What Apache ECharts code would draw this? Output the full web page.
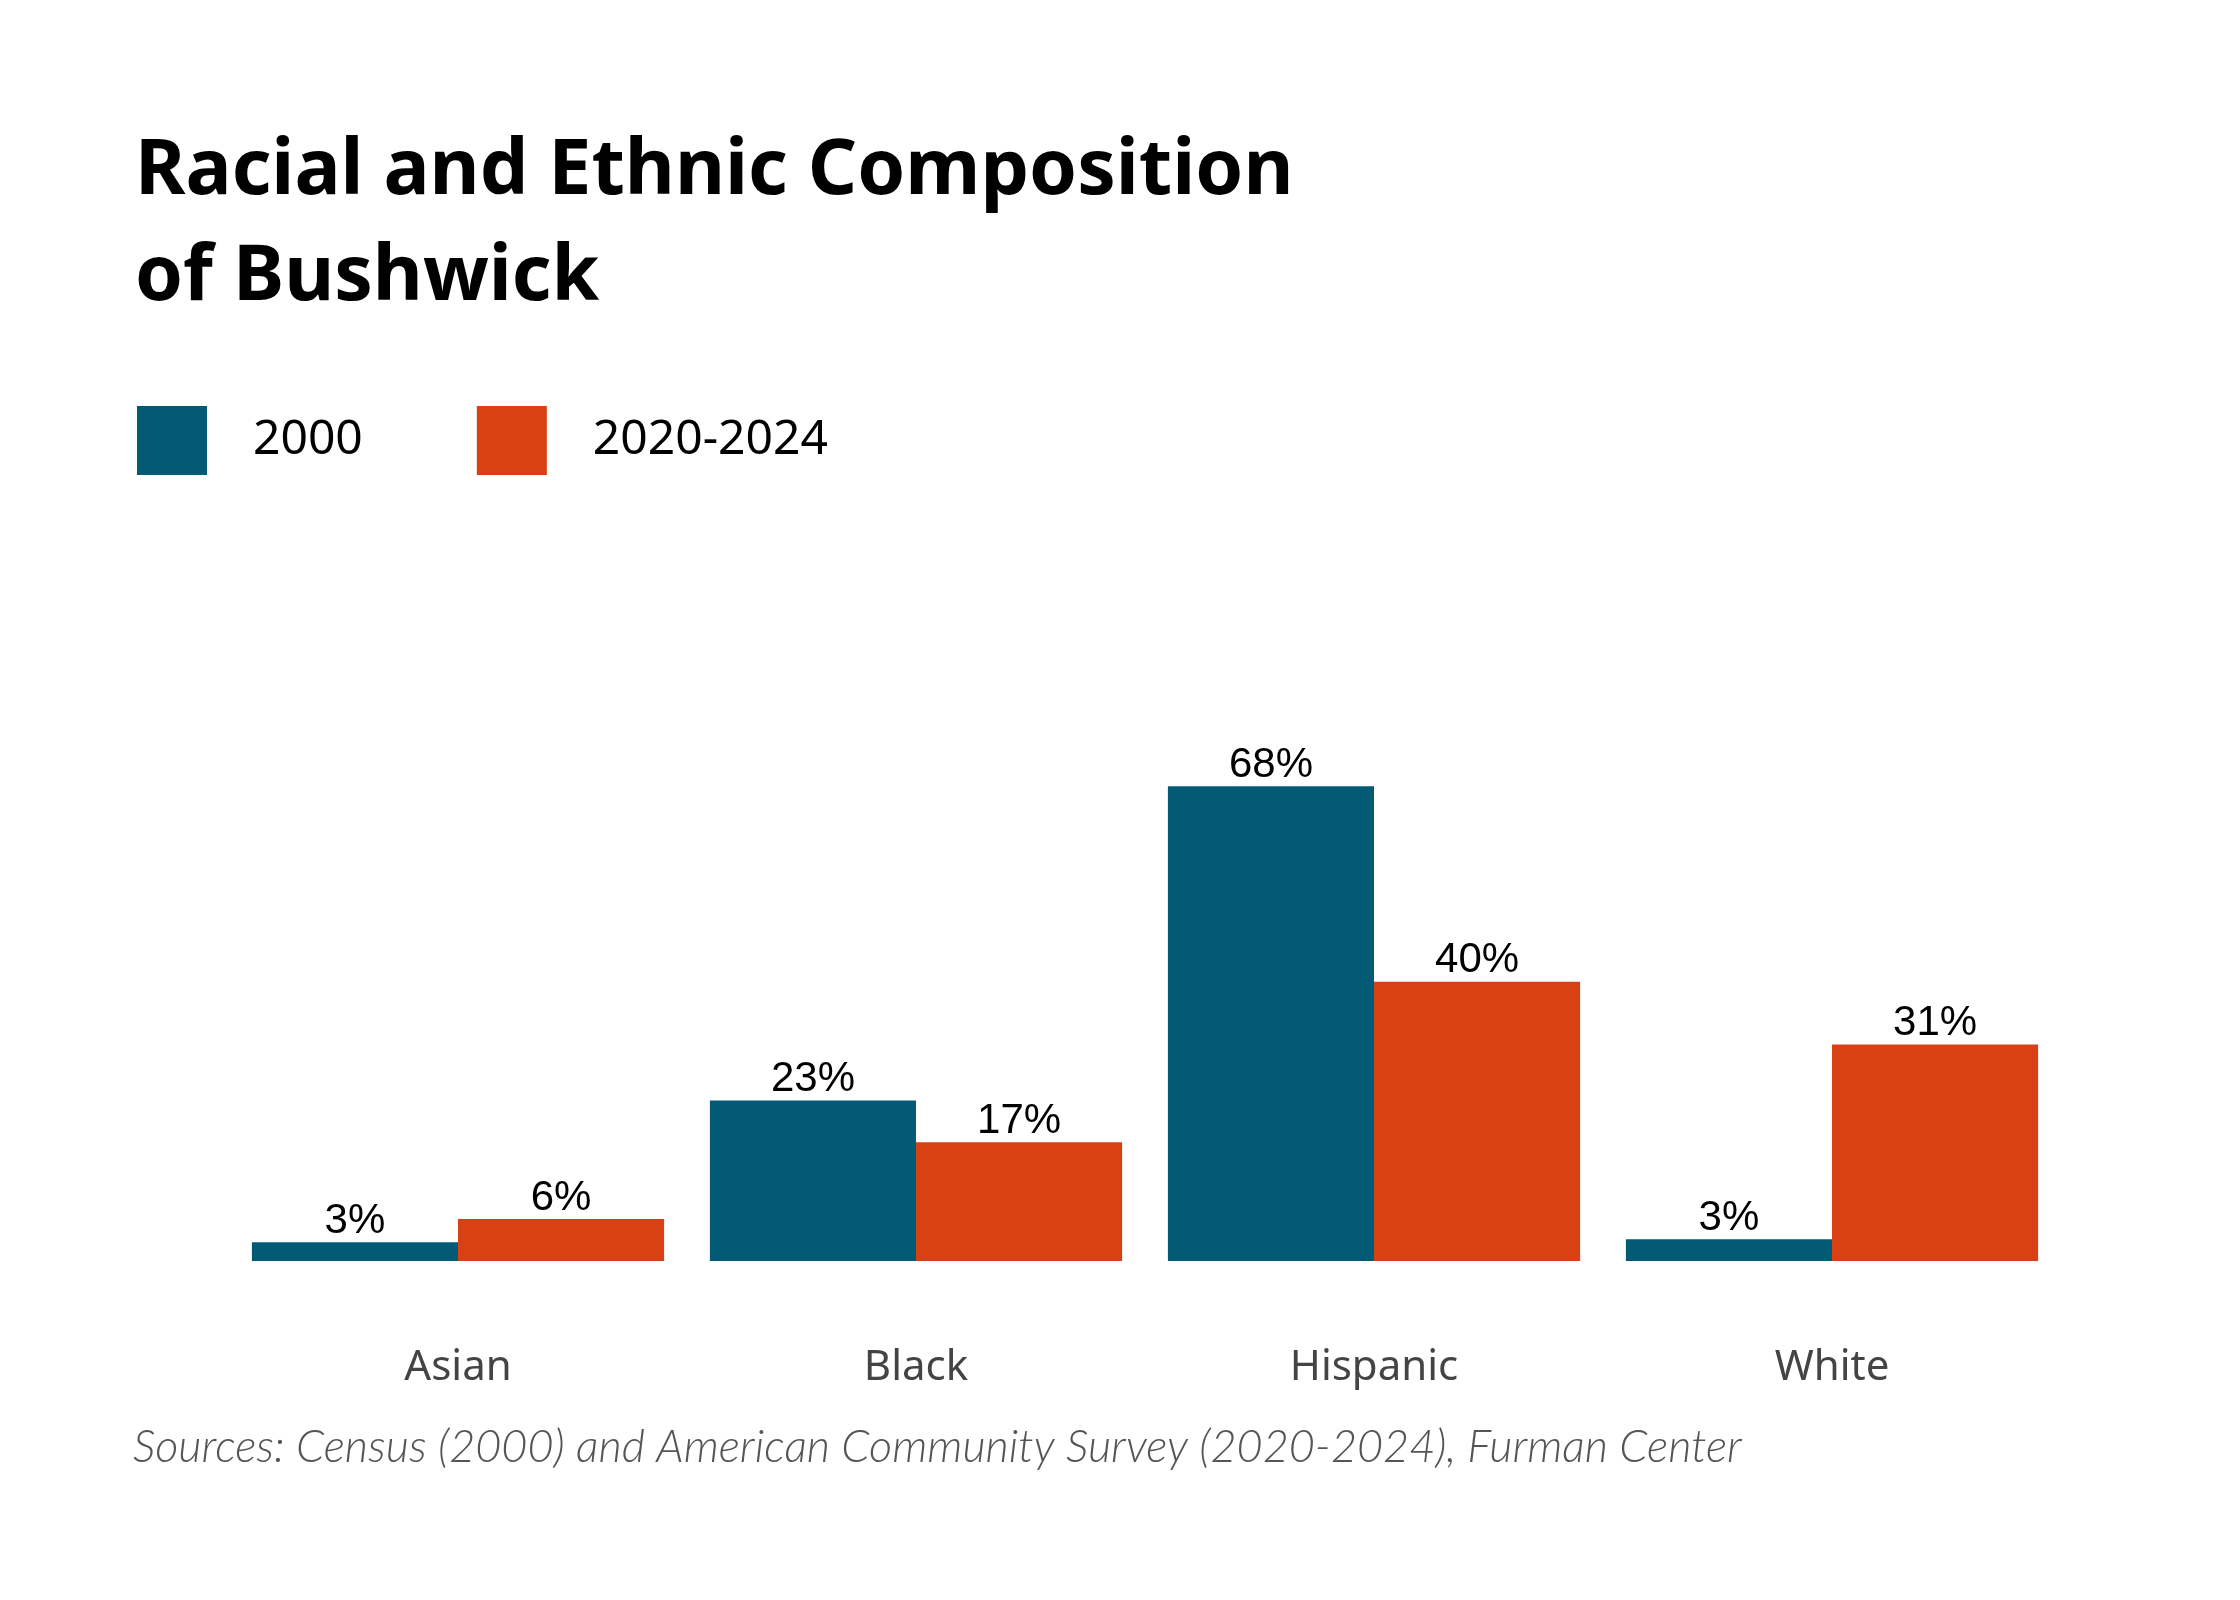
<!DOCTYPE html>
<html>
<head>
<meta charset="utf-8">
<style>
  html, body { margin: 0; padding: 0; background: #fff; }
  #chart { width: 2240px; height: 1600px; }
</style>
<script src="https://cdn.jsdelivr.net/npm/echarts@6/dist/echarts.min.js"></script>
</head>
<body>
<div id="chart"></div>
<script>
const categories = ["Asian", "Black", "Hispanic", "White"]
const seriesNames = ["2000", "2020-2024"]
const values2000 = [2.7, 23, 68, 3.1]
const values2024 = [6, 17, 40, 31]

const chart = echarts.init(document.getElementById("chart"))

const barLabel = {
  show: true,
  position: "top",
  distance: 0,
  color: "#000",
  fontFamily: "Liberation Sans",
  fontSize: 42,
  formatter: function (p) {
    return Math.round(p.value) + "%"
  },
}

const option = {
  backgroundColor: "#fff",
  animation: false,
  title: {
    text: "Racial and Ethnic Composition\nof Bushwick",
    left: 130,
    top: 114,
    textStyle: {
      fontFamily: "Noto Sans",
      fontWeight: "bold",
      fontSize: 77,
      lineHeight: 106,
      color: "#000",
    },
  },
  legend: {
    left: 132,
    top: 401,
    icon: "rect",
    itemWidth: 70,
    itemHeight: 69,
    itemGap: 114,
    data: seriesNames,
    textStyle: {
      fontFamily: "Noto Sans",
      fontSize: 48,
      color: "#000",
      padding: [0, 0, 0, 41],
    },
  },
  grid: {
    left: 229,
    right: 179,
    top: 563,
    bottom: 339,
  },
  xAxis: {
    type: "category",
    data: categories,
    axisLine: { show: false },
    axisTick: { show: false },
    axisLabel: {
      margin: 86,
      color: "#444",
      fontFamily: "Noto Sans",
      fontSize: 42,
    },
  },
  yAxis: {
    type: "value",
    min: 0,
    max: 100,
    show: false,
  },
  series: [
    {
      name: seriesNames[0],
      type: "bar",
      data: values2000,
      barGap: "0%",
      barCategoryGap: "10%",
      itemStyle: { color: "#025a74" },
      label: barLabel,
    },
    {
      name: seriesNames[1],
      type: "bar",
      data: values2024,
      itemStyle: { color: "#d84114" },
      label: barLabel,
    },
  ],
  graphic: [
    {
      type: "text",
      left: 133,
      top: 1425,
      style: {
        text: "Sources: Census (2000) and American Community Survey (2020-2024), Furman Center",
        fontFamily: "Lato",
        fontStyle: "italic",
        fontWeight: 300,
        fontSize: 45,
        fill: "#555",
      },
    },
  ],
}

chart.setOption(option)
</script>
</body>
</html>
